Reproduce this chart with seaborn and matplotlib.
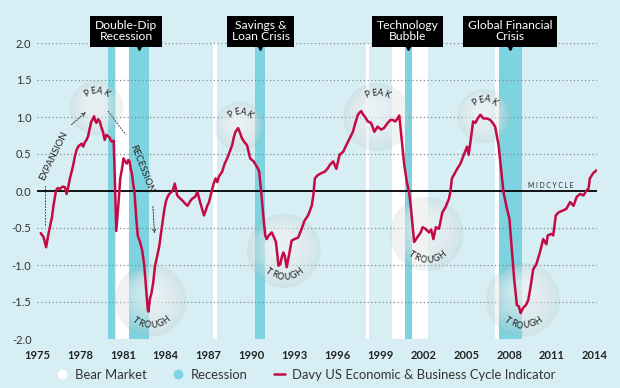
import numpy as np
import pandas as pd
import matplotlib
matplotlib.use("Agg")
import matplotlib.pyplot as plt
from matplotlib.patches import Ellipse
from matplotlib.lines import Line2D
import matplotlib.transforms as mtransforms
import seaborn as sns

# Davy US Economic & Business Cycle Indicator
years = [
    1975.26, 1975.45, 1975.64, 1975.78, 1975.92, 1976.05, 1976.15, 1976.25, 1976.33,
    1976.45, 1976.61, 1976.8, 1976.96, 1977.07, 1977.18, 1977.30, 1977.42, 1977.53,
    1977.65, 1977.76, 1977.88, 1978.0, 1978.12, 1978.23, 1978.35, 1978.46, 1978.57,
    1978.68, 1978.80, 1978.90, 1978.99, 1979.07, 1979.15, 1979.27, 1979.39, 1979.5,
    1979.61, 1979.73, 1979.85, 1979.96, 1980.08, 1980.19, 1980.36, 1980.45, 1980.54,
    1980.68, 1980.82, 1980.94, 1981.05, 1981.16, 1981.28, 1981.38, 1981.47, 1981.55,
    1981.63, 1981.72, 1981.81, 1981.93, 1982.04, 1982.2, 1982.35, 1982.5, 1982.62,
    1982.74, 1982.79, 1982.9, 1983.0, 1983.12, 1983.25, 1983.4, 1983.55, 1983.66,
    1983.78, 1983.9, 1984.0, 1984.12, 1984.25, 1984.47, 1984.63, 1984.8, 1985.0,
    1985.17, 1985.35, 1985.52, 1985.7, 1985.86, 1986.05, 1986.21, 1986.4, 1986.55,
    1986.67, 1986.8, 1986.9, 1987.02, 1987.2, 1987.35, 1987.48, 1987.6, 1987.72,
    1987.94, 1988.1, 1988.29, 1988.45, 1988.64, 1988.75, 1988.87, 1989.06, 1989.2,
    1989.33, 1989.5, 1989.68, 1989.8, 1989.9, 1990.02, 1990.14, 1990.3, 1990.45,
    1990.53, 1990.67, 1990.8, 1990.95, 1991.05, 1991.2, 1991.41, 1991.55, 1991.7,
    1991.88, 1992.0, 1992.1, 1992.22, 1992.32, 1992.45, 1992.6, 1992.8, 1993.0,
    1993.25, 1993.5, 1993.7, 1993.95, 1994.2, 1994.32, 1994.42, 1994.6, 1994.85,
    1995.11, 1995.3, 1995.46, 1995.7, 1995.92, 1996.15, 1996.4, 1996.62, 1996.85,
    1997.08, 1997.25, 1997.43, 1997.55, 1997.66, 1997.8, 1997.9, 1998.12, 1998.35,
    1998.58, 1998.8, 1999.05, 1999.25, 1999.51, 1999.7, 1999.86, 2000.05, 2000.2,
    2000.32, 2000.5, 2000.67, 2000.85, 2001.0, 2001.12, 2001.25, 2001.36, 2001.6,
    2001.82, 2001.95, 2002.15, 2002.4, 2002.55, 2002.7, 2002.88, 2003.1, 2003.33,
    2003.55, 2003.8, 2003.9, 2004.0, 2004.2, 2004.37, 2004.6, 2004.83, 2005.06,
    2005.17, 2005.3, 2005.48, 2005.64, 2005.8, 2005.99, 2006.2, 2006.45, 2006.68,
    2006.85, 2007.02, 2007.26, 2007.43, 2007.6, 2007.8, 2008.02, 2008.19, 2008.35,
    2008.54, 2008.68, 2008.8, 2008.98, 2009.18, 2009.34, 2009.5, 2009.68, 2009.9,
    2010.15, 2010.38, 2010.6, 2010.7, 2010.96, 2011.08, 2011.26, 2011.45, 2011.8,
    2012.0, 2012.26, 2012.5, 2012.72, 2012.95, 2013.2, 2013.41, 2013.55, 2013.64,
    2013.87, 2014.1,
]
values = [
    -0.57, -0.62, -0.76, -0.60, -0.47, -0.35, -0.20, -0.08, 0.01,
    0.04, 0.03, 0.06, 0.05, -0.04, 0.05, 0.17, 0.26, 0.35,
    0.47, 0.55, 0.60, 0.62, 0.64, 0.60, 0.66, 0.69, 0.74,
    0.84, 0.94, 0.97, 1.01, 0.95, 0.92, 0.97, 0.94, 0.86,
    0.80, 0.69, 0.76, 0.74, 0.72, 0.67, 0.68, 0.10, -0.54,
    -0.20, 0.17, 0.30, 0.44, 0.40, 0.37, 0.42, 0.40, 0.30,
    0.24, 0.10, -0.01, -0.35, -0.60, -0.69, -0.80, -1.01, -1.30,
    -1.60, -1.63, -1.45, -1.38, -1.24, -1.01, -0.88, -0.74, -0.58,
    -0.42, -0.25, -0.15, -0.08, -0.04, 0.00, 0.10, -0.06, -0.10,
    -0.13, -0.17, -0.20, -0.14, -0.10, -0.08, -0.01, -0.15, -0.25,
    -0.33, -0.26, -0.20, -0.15, -0.01, 0.10, 0.17, 0.12, 0.20,
    0.26, 0.36, 0.44, 0.52, 0.62, 0.72, 0.80, 0.85, 0.78,
    0.71, 0.66, 0.62, 0.52, 0.44, 0.42, 0.40, 0.35, 0.30,
    0.26, -0.01, -0.30, -0.60, -0.65, -0.60, -0.56, -0.62, -0.69,
    -1.01, -0.99, -0.90, -0.83, -0.88, -1.03, -0.88, -0.67, -0.65,
    -0.63, -0.51, -0.40, -0.33, -0.20, -0.05, 0.17, 0.21, 0.24,
    0.26, 0.30, 0.35, 0.40, 0.30, 0.49, 0.53, 0.62, 0.71,
    0.80, 0.92, 1.03, 1.06, 1.08, 1.03, 1.01, 0.94, 0.92,
    0.80, 0.87, 0.83, 0.85, 0.92, 0.96, 0.96, 0.94, 0.98,
    1.02, 0.67, 0.35, 0.12, -0.01, -0.20, -0.47, -0.69, -0.62,
    -0.56, -0.49, -0.51, -0.56, -0.52, -0.65, -0.49, -0.51, -0.29,
    -0.22, -0.10, 0.00, 0.17, 0.24, 0.30, 0.37, 0.49, 0.60,
    0.49, 0.67, 0.94, 0.92, 0.98, 1.03, 0.98, 0.98, 0.96,
    0.92, 0.87, 0.62, 0.30, -0.01, -0.20, -0.38, -0.79, -1.19,
    -1.54, -1.56, -1.65, -1.58, -1.54, -1.47, -1.29, -1.06, -0.99,
    -0.83, -0.65, -0.72, -0.60, -0.58, -0.60, -0.33, -0.29, -0.26,
    -0.24, -0.15, -0.20, -0.08, -0.04, -0.06, 0.01, 0.03, 0.17,
    0.24, 0.28,
]

# shaded periods (start, end) in years
bear_markets = [(1980.52, 1981.42), (1987.3, 1987.6), (1998.0, 1998.2),
                (1999.8, 2002.31), (2007.03, 2007.26)]
recessions = [(1979.96, 1980.48), (1981.42, 1982.81), (1990.25, 1990.95),
              (2000.7, 2001.19), (2007.26, 2008.87)]

# callouts: label, box centre (year), recession it points at
callout_labels = ["Double-Dip\nRecession", "Savings &\nLoan Crisis",
                  "Technology\nBubble", "Global Financial\nCrisis"]
callout_x = [1981.23, 1990.63, 2000.9, 2008.05]
callout_band = [1, 2, 3, 4]

# peak / trough bubbles: year, value, radius (px)
peak_x = [1979.15, 1989.19, 1998.77, 2006.26]
peak_y = [1.12, 0.87, 1.00, 1.01]
peak_r = [27, 25, 34, 27]
trough_x = [1982.95, 1992.25, 2002.24, 2008.97]
trough_y = [-1.48, -0.81, -0.58, -1.47]
trough_r = [36, 37, 37, 37]

y_ticks = [2.0, 1.5, 1.0, 0.5, 0.0, -0.5, -1.0, -1.5, -2.0]
x_ticks = [1975, 1978, 1981, 1984, 1987, 1990, 1993, 1996, 1999, 2002, 2005, 2008, 2011, 2014]

BG = "#d7eff4"
CYAN = "#7dd3df"
LINE = "#c30a45"
TXT = "#333333"

sns.set_theme(style="white")
plt.rcParams["font.family"] = ["Lato", "DejaVu Sans"]
plt.rcParams["axes.unicode_minus"] = False

fig = plt.figure(figsize=(6.2, 3.88), dpi=100)
fig.patch.set_facecolor(BG)
ax = fig.add_axes([37 / 620, 1 - 339 / 388, 560 / 620, 296 / 388])
ax.set_facecolor(BG)
XMIN, XMAX, YMIN, YMAX = 1975.24, 2014.14, -2.0, 2.0
ax.set_xlim(XMIN, XMAX)
ax.set_ylim(YMIN, YMAX)
for s in ax.spines.values():
    s.set_visible(False)

# pixels per data unit, used to keep bubbles round
PX_X = 560 / (XMAX - XMIN)
PX_Y = 296 / (YMAX - YMIN)

for a, b in bear_markets:
    ax.axvspan(a, b, color="white", lw=0, zorder=0.5)
for a, b in recessions:
    ax.axvspan(a, b, color=CYAN, lw=0, zorder=0.6)

for t in y_ticks:
    if t != 0:
        ax.axhline(t, color="#7d8c90", lw=0.9, ls=(0, (1, 2)), zorder=1)
ax.axhline(0, color="black", lw=1.3, zorder=2)


def bubble(x, y, r, word, top):
    w, h = 2 * r / PX_X, 2 * r / PX_Y
    # grey rim, whiter towards the upper left
    ax.add_patch(Ellipse((x, y), w, h, facecolor="#9aaaae", alpha=0.16, lw=0, zorder=1.5))
    for k in range(12):
        f = 1 - k * 0.065
        dx = -0.12 * r * (1 - f) / PX_X
        dy = 0.30 * r * (1 - f) / PX_Y
        ax.add_patch(Ellipse((x + dx, y + dy), w * f * 0.97, h * f * 0.97, facecolor="white",
                             alpha=0.075, lw=0, zorder=1.6))
    # curved lettering
    rt = r - (10 if top else 11)
    step = 6.6 / rt
    n = len(word)
    for i, ch in enumerate(word):
        off = (i - (n - 1) / 2) * step
        if top:
            th = np.pi / 2 - off
            rot = np.degrees(th) - 90
        else:
            th = -np.pi / 2 + off
            rot = np.degrees(th) + 90
        ax.text(x + rt * np.cos(th) / PX_X, y + rt * np.sin(th) / PX_Y, ch,
                rotation=rot, rotation_mode="anchor", ha="center", va="center",
                fontsize=6.2, color="#1a1a1a", zorder=2.5)


for x, y, r in zip(peak_x, peak_y, peak_r):
    bubble(x, y, r, "PEAK", True)
for x, y, r in zip(trough_x, trough_y, trough_r):
    bubble(x, y, r, "TROUGH", False)

df = pd.DataFrame({"year": years, "value": values})
sns.lineplot(data=df, x="year", y="value", ax=ax, color=LINE, lw=1.8, zorder=3)

ax.set_xlabel("")
ax.set_ylabel("")
ax.set_yticks(y_ticks)
ax.set_yticklabels([f"{t:.1f}" for t in y_ticks], fontsize=8, color=TXT)
ax.set_xticks(x_ticks)
ax.set_xticklabels([str(t) for t in x_ticks], fontsize=8, fontweight="bold", color="#222222")
ax.tick_params(axis="both", length=0)
ax.tick_params(axis="y", pad=4)
ax.tick_params(axis="x", pad=8)

# callout boxes
blend = mtransforms.blended_transform_factory(ax.transData, ax.transAxes)
for lab, cx, bi in zip(callout_labels, callout_x, callout_band):
    ax.text(cx, 1.04, lab, transform=blend, ha="center", va="center", fontsize=8.7,
            color="white", linespacing=1.0, zorder=6,
            bbox=dict(boxstyle="square,pad=0.38", facecolor="black", edgecolor="none"))
    bx = (recessions[bi][0] + recessions[bi][1]) / 2
    ax.plot([bx], [0.987], marker="v", ms=5, color="black", transform=blend,
            clip_on=False, zorder=6)

# expansion / recession arrows
dash = dict(arrowstyle="->", ls=(0, (2, 1.5)), lw=0.6, color="#222222",
            mutation_scale=6)
ax.plot([1975.57, 1975.57], [-0.46, 0.08], ls=(0, (2, 1.5)), lw=0.6, color="#222222", zorder=4)
ax.text(1976.18, 0.47, "EXPANSION", rotation=64, ha="center", va="center",
        fontsize=6.8, color="#222222", zorder=4)
ax.annotate("", xy=(1978.55, 1.09), xytext=(1977.26, 0.87), arrowprops=dash, zorder=4)
ax.plot([1979.96, 1981.21], [1.08, 0.76], ls=(0, (2, 1.5)), lw=0.6, color="#222222", zorder=4)
ax.text(1982.29, 0.30, "RECESSION", rotation=-69, ha="center", va="center",
        fontsize=6.8, color="#222222", zorder=4)
ax.annotate("", xy=(1983.22, -0.61), xytext=(1983.09, -0.17), arrowprops=dash, zorder=4)

ax.text(2010.9, 0.08, "M I D C Y C L E", ha="center", va="center", fontsize=4.8,
        color="#222222", zorder=4)

handles = [
    Line2D([], [], marker="o", ls="none", ms=7, markerfacecolor="white", markeredgecolor="none"),
    Line2D([], [], marker="o", ls="none", ms=7, markerfacecolor=CYAN, markeredgecolor="none"),
    Line2D([], [], color=LINE, lw=1.8),
]
fig.legend(handles, ["Bear Market", "Recession", "Davy US Economic & Business Cycle Indicator"],
           loc="center", bbox_to_anchor=(0.494, 1 - 375 / 388), ncol=3, frameon=False,
           fontsize=9.4, labelcolor=TXT, handlelength=0.8, handletextpad=0.6,
           columnspacing=2.0)

fig.savefig("out.png", dpi=100, facecolor=BG)
